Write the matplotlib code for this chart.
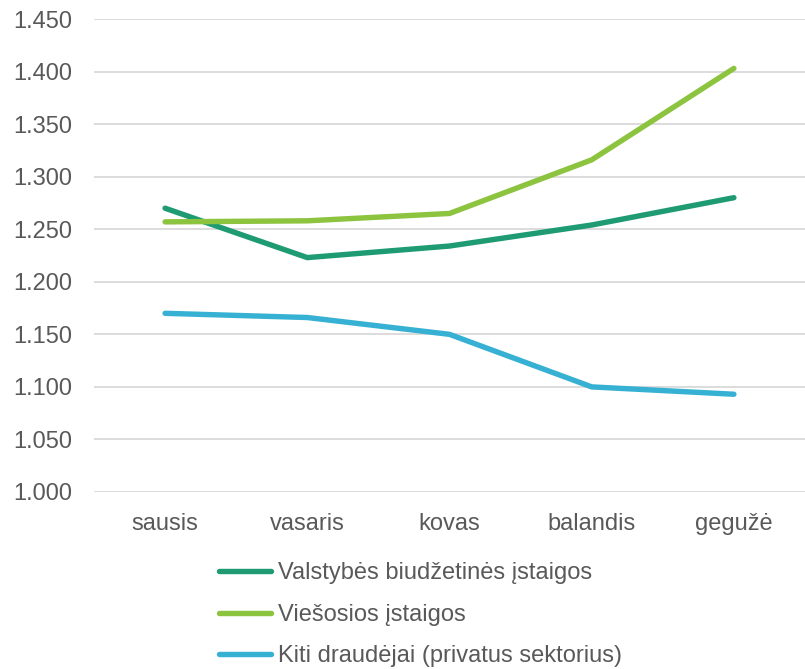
import matplotlib
matplotlib.use("Agg")
import matplotlib.pyplot as plt
import numpy as np

plt.rcParams["font.family"] = ["Liberation Sans", "DejaVu Sans"]

months = ["sausis", "vasaris", "kovas", "balandis", "gegužė"]
valstybes = [1.270, 1.223, 1.234, 1.254, 1.280]
viesosios = [1.257, 1.258, 1.265, 1.316, 1.403]
kiti = [1.170, 1.166, 1.150, 1.100, 1.093]

labels = ["Valstybės biudžetinės įstaigos", "Viešosios įstaigos",
          "Kiti draudėjai (privatus sektorius)"]
colors = ["#1E9B72", "#8CC43F", "#37B1D3"]
TXT = "#595959"
GRID = "#D9D9D9"

fig = plt.figure(figsize=(8.05, 6.69), dpi=100)
ax = fig.add_axes([94 / 805, 1 - 492 / 669, 1 - 94 / 805, (492 - 19) / 669])

x = np.arange(len(months))
for ys, c, lab in zip([valstybes, viesosios, kiti], colors, labels):
    ax.plot(x, ys, color=c, lw=3.9, solid_capstyle="round",
            solid_joinstyle="round", label=lab, zorder=3)

ticks = np.arange(1.0, 1.451, 0.05)
ax.set_xlim(-0.5, len(months) - 0.5)
ax.set_ylim(1.0, 1.45)
ax.set_yticks(ticks)
ax.set_yticklabels([f"{v:.3f}" for v in ticks])
ax.set_xticks(x)
ax.set_xticklabels(months)
ax.tick_params(axis="both", length=0, labelsize=17, colors=TXT)
ax.tick_params(axis="x", pad=15)
ax.tick_params(axis="y", pad=16)
ax.yaxis.grid(True, color=GRID, lw=1.3)
ax.set_axisbelow(True)
for s in ax.spines.values():
    s.set_visible(False)

leg = fig.legend(loc="upper left", bbox_to_anchor=(210 / 805, 1 - 553 / 669),
                 frameon=False, fontsize=17, handlelength=2.2,
                 handletextpad=0.3, labelspacing=0.82, borderaxespad=0)
for t in leg.get_texts():
    t.set_color(TXT)

fig.savefig("out.png", dpi=100)
